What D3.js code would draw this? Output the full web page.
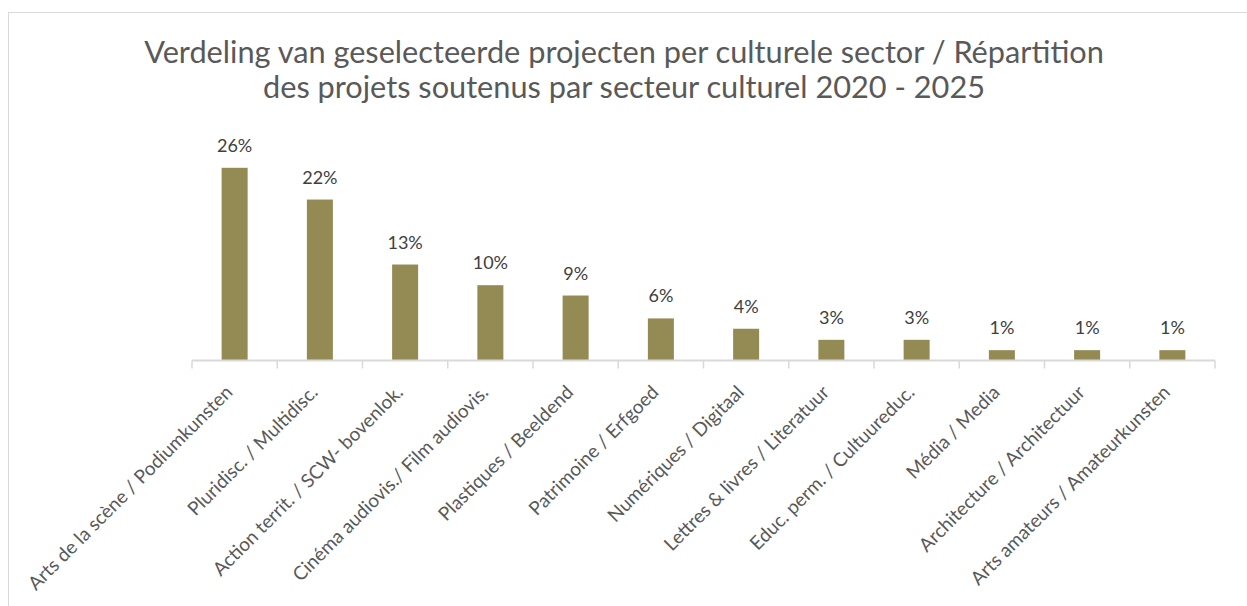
<!DOCTYPE html>
<html>
<head>
<meta charset="utf-8">
<script src="https://cdn.jsdelivr.net/npm/d3@7"></script>
<style>
  body { margin: 0; background: #fff; }
  svg { display: block; font-family: Lato, "Open Sans", sans-serif; }
</style>
</head>
<body>
<svg id="chart"></svg>
<script>
// sectors (FR / NL) and their share of the selected projects, in %
let sectors = [
    'Arts de la scène / Podiumkunsten',
    'Pluridisc. / Multidisc.',
    'Action territ. / SCW- bovenlok.',
    'Cinéma audiovis./ Film audiovis.',
    'Plastiques / Beeldend',
    'Patrimoine / Erfgoed',
    'Numériques / Digitaal',
    'Lettres & livres / Literatuur',
    'Educ. perm. / Cultuureduc.',
    'Média / Media',
    'Architecture / Architectuur',
    'Arts amateurs / Amateurkunsten'
]
let shares = [26.1, 21.8, 13.0, 10.2, 8.8, 5.7, 4.3, 2.8, 2.8, 1.4, 1.4, 1.4]
let yDomain = [0, 30]
let titleLines = [
    'Verdeling van geselecteerde projecten per culturele sector / Répartition',
    'des projets soutenus par secteur culturel 2020 - 2025'
]

let width = 1247
let height = 606
let barColor = '#948a54'
let gridColor = '#d9d9d9'

let plot = { left: 192, right: 1215, top: 139, bottom: 360.5 }

let $svg = d3.select('#chart')
    .attr('width', width)
    .attr('height', height)

// chart area border (runs off the right and bottom edges)
$svg.append('rect')
    .attr('x', 8.5)
    .attr('y', 12.5)
    .attr('width', 1260)
    .attr('height', 620)
    .attr('fill', 'none')
    .attr('stroke', gridColor)

// title, sized so the first line spans the same width as the original
let $title = $svg.append('g').attr('class', 'title')
let $titleLines = $title.selectAll('text')
    .data(titleLines)
    .enter().append('text')
    .attr('x', 624)
    .attr('y', (d, i) => 63 + i * 35)
    .attr('text-anchor', 'middle')
    .attr('fill', '#595959')
    .attr('font-size', 30)
    .text(d => d)
let firstLen = $titleLines.node().getComputedTextLength()
$titleLines.attr('font-size', 30 * 960 / firstLen)

let x = d3.scaleBand()
    .domain(sectors)
    .range([plot.left, plot.right])
    .paddingInner(0.695)
    .paddingOuter(0.3475)

let y = d3.scaleLinear()
    .domain(yDomain)
    .range([plot.bottom, plot.top])

// bars
$svg.append('g').attr('class', 'bars')
    .selectAll('rect')
    .data(shares)
    .enter().append('rect')
    .attr('x', (d, i) => x(sectors[i]))
    .attr('width', x.bandwidth())
    .attr('y', d => y(d))
    .attr('height', d => y(0) - y(d))
    .attr('fill', barColor)

// value labels
$svg.append('g').attr('class', 'values')
    .selectAll('text')
    .data(shares)
    .enter().append('text')
    .attr('x', (d, i) => x(sectors[i]) + x.bandwidth() / 2)
    .attr('y', d => y(d) - 16)
    .attr('text-anchor', 'middle')
    .attr('fill', '#404040')
    .attr('font-size', 18)
    .text(d => Math.round(d) + '%')

// category axis: line plus ticks on the category boundaries
let $axis = $svg.append('g').attr('class', 'axis')
$axis.append('line')
    .attr('x1', plot.left)
    .attr('x2', plot.right)
    .attr('y1', plot.bottom)
    .attr('y2', plot.bottom)
    .attr('stroke', gridColor)
    .attr('stroke-width', 2)
$axis.selectAll('line.tick')
    .data(d3.range(sectors.length + 1))
    .enter().append('line')
    .attr('class', 'tick')
    .attr('x1', d => plot.left + d * x.step())
    .attr('x2', d => plot.left + d * x.step())
    .attr('y1', plot.bottom)
    .attr('y2', plot.bottom + 8)
    .attr('stroke', gridColor)
    .attr('stroke-width', 1.5)

$axis.selectAll('text')
    .data(sectors)
    .enter().append('text')
    .attr('transform', d => {
        let cx = x(d) + x.bandwidth() / 2
        return 'translate(' + (cx - 1) + ',' + (plot.bottom + 33) + ') rotate(-45)'
    })
    .attr('text-anchor', 'end')
    .attr('fill', '#595959')
    .attr('font-size', 19)
    .text(d => d)
</script>
</body>
</html>
